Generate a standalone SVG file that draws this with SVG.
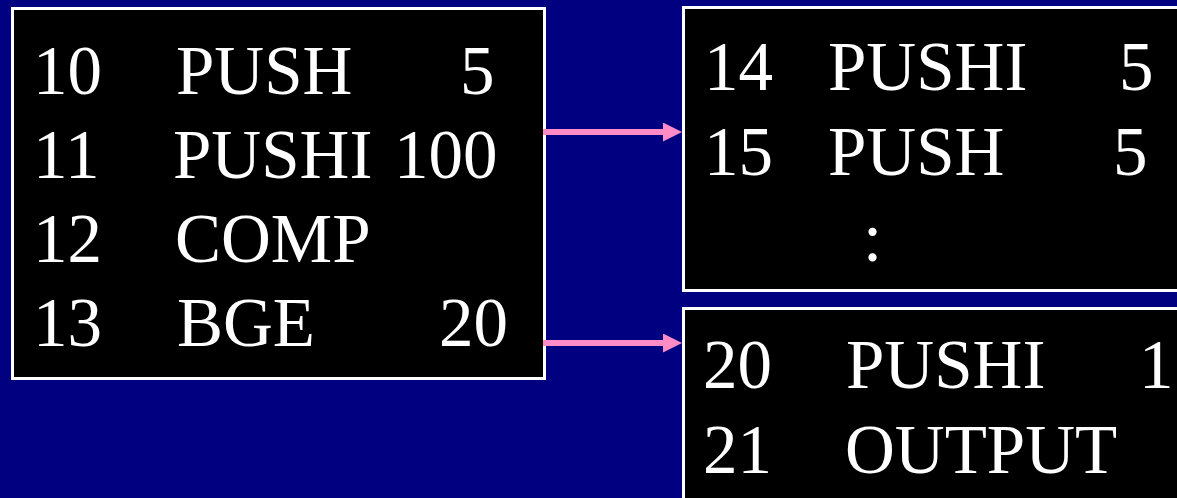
<svg xmlns="http://www.w3.org/2000/svg" width="1177" height="498" viewBox="0 0 1177 498">
  <style>
    .box { fill: #000000; stroke: #FFFFFF; stroke-width: 3; }
    .t { font-family: "Liberation Serif", "Times New Roman", serif; font-size: 69px; fill: #FFFFFF; }
    .conn { stroke: #FF8CC6; stroke-width: 6; fill: none; }
  </style>
  <defs>
    <marker id="ah" markerUnits="userSpaceOnUse" markerWidth="20" markerHeight="20" viewBox="0 0 20 20" refX="2" refY="9.5" orient="auto">
      <path d="M0,0 L19,9.5 L0,19 Z" fill="#FF8CC6"/>
    </marker>
  </defs>
  <rect x="0" y="0" width="1177" height="498" fill="#000080"/>

  <g id="block-left">
    <rect class="box" x="12.5" y="8.5" width="532" height="370"/>
    <text class="t" x="33" y="94">10</text>
    <text class="t" x="176" y="94">PUSH</text>
    <text class="t" x="460" y="94">5</text>
    <text class="t" x="33" y="178">11</text>
    <text class="t" x="173" y="178">PUSHI</text>
    <text class="t" x="394" y="178">100</text>
    <text class="t" x="33" y="262">12</text>
    <text class="t" x="175" y="262">COMP</text>
    <text class="t" x="33" y="346">13</text>
    <text class="t" x="177" y="346">BGE</text>
    <text class="t" x="439" y="346">20</text>
  </g>

  <g id="block-fallthrough">
    <rect class="box" x="683.5" y="7.5" width="520" height="283"/>
    <text class="t" x="704" y="90">14</text>
    <text class="t" x="828" y="90">PUSHI</text>
    <text class="t" x="1119" y="90">5</text>
    <text class="t" x="704" y="175">15</text>
    <text class="t" x="828" y="175">PUSH</text>
    <text class="t" x="1113" y="175">5</text>
    <text class="t" x="863" y="261">:</text>
  </g>

  <g id="block-target">
    <rect class="box" x="683.5" y="308.5" width="520" height="220"/>
    <text class="t" x="703" y="388">20</text>
    <text class="t" x="846" y="388">PUSHI</text>
    <text class="t" x="1139" y="388">1</text>
    <text class="t" x="703" y="473">21</text>
    <text class="t" x="845" y="473">OUTPUT</text>
  </g>

  <g id="connectors">
    <line class="conn" x1="543" y1="132" x2="665" y2="132" marker-end="url(#ah)"/>
    <line class="conn" x1="543" y1="343" x2="665" y2="343" marker-end="url(#ah)"/>
  </g>
</svg>
